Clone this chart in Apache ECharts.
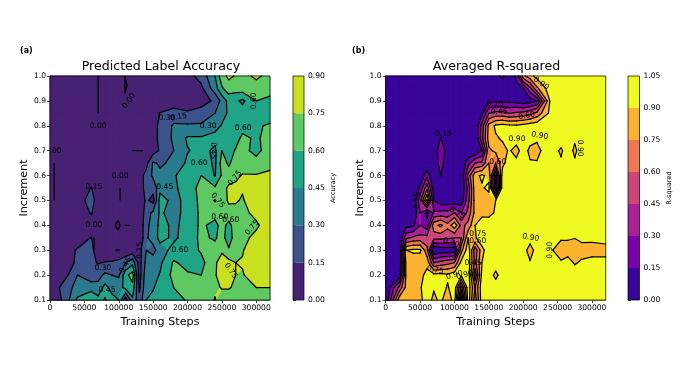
<!DOCTYPE html>
<html>
<head>
<meta charset="utf-8">
<style>
  html, body { margin: 0; background: #fff; }
  #chart { width: 692px; height: 389px; }
</style>
<script src="https://cdn.jsdelivr.net/npm/echarts@6/dist/echarts.min.js"></script>
</head>
<body>
<div id="chart"></div>
<script>
const increments = [1, 0.95, 0.9, 0.85, 0.8, 0.75, 0.7, 0.65, 0.6, 0.55, 0.5, 0.45, 0.4, 0.35, 0.3, 0.25, 0.2, 0.15, 0.1];

// training steps (in thousands) of the columns of each grid
const stepsA = [0, 20, 40, 60, 70, 80, 90, 100, 110, 120, 130, 140, 150, 160, 180, 200, 220, 240, 250, 260, 270, 280, 300, 320];
const stepsB = [0, 20, 30, 40, 50, 60, 70, 80, 90, 100, 110, 120, 130, 140, 150, 160, 170, 180, 190, 200, 210, 220, 240, 255, 265, 275, 285, 300, 320];

// accuracy in percent, one row per increment
const accuracy = [
  [0,0,0,0,0,0,0,0,0,0,0,0,0,0,0,10,20,45,70,78,74,70,78,70],
  [0,0,0,0,0,0,0,0,0,0,0,0,0,0,0,5,12,38,58,68,66,68,68,68],
  [0,0,0,0,0,0,0,0,0,0,0,0,0,0,5,3,8,18,35,50,48,42,60,55],
  [0,0,0,0,0,0,0,0,0,0,0,0,5,16,22,18,22,30,40,47,50,52,55,52],
  [0,0,0,0,0,0,0,0,0,0,0,0,10,18,32,32,32,40,46,50,50,55,58,62],
  [0,0,0,0,0,0,0,0,0,0,0,0,12,17,33,47,47,50,52,52,55,63,58,65],
  [0,0,0,0,0,0,0,0,0,0,0,0,8,17,30,44,50,42,60,55,61,64,56,67],
  [0,0,0,0,0,0,0,0,0,0,2,10,32,28,33,48,55,42,66,58,66,68,65,68],
  [0,0,0,0,0,0,0,0,0,0,8,20,33,33,44,50,60,44,62,66,72,76,76,80],
  [0,0,0,16,0,0,0,0,0,0,5,22,20,40,43,50,66,62,68,78,78,76,78,83],
  [0,0,0,28,0,0,0,0,0,0,2,18,10,52,40,50,64,76,68,77,76,74,82,85],
  [0,0,0,17,0,0,0,0,0,0,0,24,33,47,40,50,63,66,66,70,72,70,80,84],
  [0,0,0,0,0,0,0,0,0,0,0,28,33,50,42,50,63,55,66,55,68,68,72,85],
  [0,0,0,16,0,0,0,0,0,0,0,28,36,50,42,52,63,58,66,52,68,70,80,85],
  [0,0,18,20,5,0,0,0,0,5,10,30,25,38,50,52,62,66,74,62,70,74,85,85],
  [0,0,20,18,14,16,17,20,30,40,8,35,38,42,62,55,55,74,78,80,75,76,85,85],
  [0,8,30,18,25,33,30,28,55,67,8,40,40,46,65,62,60,74,80,82,75,74,82,80],
  [0,22,35,40,35,50,40,38,50,55,12,42,44,50,60,66,62,72,76,76,73,70,75,75],
  [0,18,48,56,50,62,50,45,5,42,20,45,48,52,52,62,62,76,68,68,68,68,68,68]
];

// R-squared in percent
const rSquared = [
  [0,0,0,0,0,0,0,0,0,0,0,0,0,0,0,10,18,0,18,70,85,95,100,100,100,100,100,100,100],
  [0,0,0,0,0,0,0,0,0,0,0,0,0,0,0,0,5,0,12,15,40,72,100,100,100,100,100,100,100],
  [0,0,0,0,0,0,0,0,0,0,0,0,0,0,12,12,12,12,10,5,8,15,95,100,100,100,100,100,100],
  [0,0,0,0,0,0,0,0,0,0,0,0,0,12,45,50,50,45,48,50,55,65,95,100,100,100,100,100,100],
  [0,0,0,0,0,0,0,0,0,0,0,0,0,35,80,93,95,93,92,95,98,100,100,100,100,100,100,100,100],
  [0,0,0,0,0,0,0,16,0,0,0,0,0,40,82,88,92,100,100,100,98,92,100,100,100,93,100,100,100],
  [0,0,0,0,0,0,0,28,5,0,0,0,0,15,72,78,85,92,82,100,85,86,100,87,100,86,100,100,100],
  [0,0,0,0,0,0,0,25,0,0,0,25,45,48,75,60,85,100,96,100,92,91,100,93,100,93,100,100,100],
  [0,0,0,0,0,25,0,15,0,0,0,50,85,93,85,15,100,100,100,100,100,100,100,100,100,100,100,100,100],
  [0,0,0,0,18,55,8,0,0,0,0,35,85,88,94,15,100,100,100,100,100,100,100,100,100,100,100,100,100],
  [0,0,0,0,40,92,15,5,5,5,5,40,82,85,82,90,100,100,100,100,100,100,100,100,100,100,100,100,100],
  [0,0,0,0,30,10,32,35,35,45,30,50,80,85,85,92,100,100,100,100,100,100,100,100,100,100,100,100,100],
  [0,0,10,12,30,20,70,78,65,85,55,65,90,100,100,100,100,100,100,100,100,100,100,100,100,100,100,100,100],
  [0,0,42,48,50,50,50,50,48,45,45,90,88,100,100,100,100,100,100,100,100,100,100,92,92,90.5,95,94,97],
  [0,0,90,93,93,65,0,5,5,5,70,100,50,85,100,100,100,100,100,100,80,100,92,82,82,82,82,83,83],
  [0,0,82,80,80,85,45,50,55,60,95,100,55,90,100,100,100,100,100,100,92,100,100,92,97,88,93,96,96],
  [0,5,80,85,85,95,95,95,93,100,93,100,35,95,100,85,100,100,100,100,100,100,100,100,100,100,100,100,100],
  [0,50,80,85,88,100,92,100,88,100,40,100,60,100,100,100,100,100,100,100,100,100,100,100,100,100,100,100,100],
  [0,85,85,85,85,100,85,95,75,100,0,100,50,100,100,100,100,100,100,100,100,100,100,100,100,100,100,100,100]
];

const levelsA = [0, 0.15, 0.3, 0.45, 0.6, 0.75, 0.9];
const levelsB = [0, 0.15, 0.3, 0.45, 0.6, 0.75, 0.9, 1.05];
const colorsA = ["#482173", "#3b528b", "#2a7b8e", "#20a486", "#5ec962", "#c8e020"];
const colorsB = ["#380499", "#7a02a8", "#a82296", "#cc4778", "#ed7953", "#fdb32f", "#f0f921"];

const stepTicks = [0, 50000, 100000, 150000, 200000, 250000, 300000];
const incrementTicks = [0.1, 0.2, 0.3, 0.4, 0.5, 0.6, 0.7, 0.8, 0.9, 1];

// thin traces of the 0.00 contour in panel a, [steps in thousands, increment]
const zeroTraces = [
  [[70, 1], [70, 0.85]],
  [[109, 1], [109, 0.93], [112, 0.96], [109, 1]],
  [[120, 0.7], [135, 0.7]],
  [[6, 0.65], [6, 0.5]],
  [[102, 0.55], [102, 0.5]],
  [[109, 0.4], [116, 0.4]],
  [[95, 0.4], [99, 0.42], [102, 0.4], [99, 0.38], [95, 0.4]],
  [[64, 0.35], [64, 0.3]],
  [[95, 0.3], [102, 0.3]]
];

// contour labels: [steps in thousands, increment, text, rotation in degrees]
const labelsA = [
  [70, 0.8, "0.00", 0], [115, 0.9, "0.00", 55], [8, 0.7, ".00", 0], [102, 0.6, "0.00", 0],
  [64, 0.555, "0.15", 0], [64, 0.4, "0.00", 0], [77, 0.23, "0.30", 0], [83, 0.14, "0.45", 0],
  [110, 0.24, "0.45", 60], [131, 0.3, "0.15", 90], [167, 0.555, "0.45", 0], [189, 0.3, "0.60", 0],
  [170, 0.83, "0.30", 0], [187, 0.835, "0.15", 10], [230, 0.8, "0.30", 0], [281, 0.79, "0.60", 0],
  [297, 0.9, "0.60", 90], [237, 0.7, "0.45", -90], [217, 0.65, "0.60", 0], [269, 0.59, "0.75", 50],
  [244, 0.5, "0.75", -50], [247, 0.435, "0.60", 0], [263, 0.42, "0.60", 0], [294, 0.39, "0.75", 50],
  [263, 0.217, "0.75", -55]
];
const labelsB = [
  [84, 0.767, "0.15", 0], [159, 0.888, "0.15", 0], [165, 0.855, "0.45", 0], [163, 0.655, "0.60", 0],
  [226, 0.97, "0.90", -35], [205, 0.84, "0.60", 10], [191, 0.747, "0.90", 0], [224, 0.76, "0.90", -10],
  [282, 0.71, "0.90", -90], [211, 0.35, "0.90", -10], [239, 0.3, "0.90", 90], [45, 0.5, "0.15", 90],
  [104, 0.45, "0.75", -30], [95, 0.33, "0.30", -20], [72, 0.22, "0.75", -10], [100, 0.2, "0.90", 15],
  [115, 0.2, "0.90", 15], [134, 0.365, "0.75", 0], [134, 0.335, "0.60", 0], [127, 0.25, "0.45", 0]
];

const FONT = "DejaVu Sans";

function cellsOf(steps, rows) {
  const cells = [];
  for (let r = 0; r < increments.length - 1; r++) {
    for (let c = 0; c < steps.length - 1; c++) {
      cells.push([
        steps[c] * 1000, increments[r], steps[c + 1] * 1000, increments[r + 1],
        rows[r][c] / 100, rows[r][c + 1] / 100, rows[r + 1][c + 1] / 100, rows[r + 1][c] / 100
      ]);
    }
  }
  return cells;
}

function cellCorners(api) {
  const x0 = api.value(0), y0 = api.value(1), x1 = api.value(2), y1 = api.value(3);
  return [
    { p: [x0, y0], v: api.value(4) },
    { p: [x1, y0], v: api.value(5) },
    { p: [x1, y1], v: api.value(6) },
    { p: [x0, y1], v: api.value(7) }
  ];
}

function crossing(a, b, level) {
  const t = (level - a.v) / (b.v - a.v);
  return { p: [a.p[0] + (b.p[0] - a.p[0]) * t, a.p[1] + (b.p[1] - a.p[1]) * t], v: level };
}

// keep the part of a polygon on one side of a level
function clip(poly, level, keepAbove) {
  const out = [];
  const inside = (n) => (keepAbove ? n.v >= level : n.v <= level);
  poly.forEach((a, i) => {
    const b = poly[(i + 1) % poly.length];
    if (inside(a)) out.push(a);
    if (inside(a) !== inside(b)) out.push(crossing(a, b, level));
  });
  return out;
}

function fillRenderer(levels, colors) {
  return function (params, api) {
    const corners = cellCorners(api);
    const children = [];
    colors.forEach((color, i) => {
      const poly = clip(clip(corners, levels[i], true), levels[i + 1], false);
      if (poly.length < 3) return;
      children.push({
        type: "polygon",
        shape: { points: poly.map((n) => api.coord(n.p)) },
        style: { fill: color, stroke: color, lineWidth: 1 }
      });
    });
    return { type: "group", children: children };
  };
}

function lineRenderer(levels) {
  return function (params, api) {
    const corners = cellCorners(api);
    const centre = (corners[0].v + corners[1].v + corners[2].v + corners[3].v) / 4;
    const children = [];
    levels.slice(1, -1).forEach((level) => {
      const hits = [];
      corners.forEach((a, i) => {
        const b = corners[(i + 1) % 4];
        if ((a.v > level) !== (b.v > level)) hits.push(crossing(a, b, level));
      });
      const segs = [];
      if (hits.length === 2) segs.push([hits[0], hits[1]]);
      if (hits.length === 4) {
        if ((corners[0].v > level) === (centre > level)) {
          segs.push([hits[0], hits[1]], [hits[2], hits[3]]);
        } else {
          segs.push([hits[3], hits[0]], [hits[1], hits[2]]);
        }
      }
      segs.forEach((s) => {
        const a = api.coord(s[0].p), b = api.coord(s[1].p);
        children.push({
          type: "line",
          shape: { x1: a[0], y1: a[1], x2: b[0], y2: b[1] },
          style: { stroke: "#000", lineWidth: 1.25, lineCap: "round" }
        });
      });
    });
    return { type: "group", children: children };
  };
}

function labelRenderer(labels) {
  return function (params, api) {
    const item = labels[params.dataIndex];
    const pos = api.coord([item[0] * 1000, item[1]]);
    return {
      type: "text",
      x: pos[0],
      y: pos[1],
      rotation: (item[3] * Math.PI) / 180,
      style: {
        text: item[2],
        fill: "#000",
        font: "7.6px '" + FONT + "'",
        textAlign: "center",
        textVerticalAlign: "middle"
      }
    };
  };
}

function bandRenderer(levels, colors) {
  return function (params, api) {
    const i = params.dataIndex;
    const a = api.coord([0, levels[i]]);
    const b = api.coord([1, levels[i + 1]]);
    return {
      type: "rect",
      shape: { x: a[0], y: b[1], width: b[0] - a[0], height: a[1] - b[1] },
      style: { fill: colors[i] }
    };
  };
}

const tickFont = { fontFamily: FONT, fontSize: 7.6, color: "#000", margin: 4 };
const axisLine = { show: true, lineStyle: { color: "#000", width: 0.7 } };
const axisTick = { show: true, length: 3, lineStyle: { color: "#000", width: 0.7 } };

function panelAxes(gridIndex) {
  return {
    x: {
      type: "value", gridIndex: gridIndex, min: 0, max: 320000,
      name: "Training Steps", nameLocation: "middle", nameGap: 14,
      nameTextStyle: { fontFamily: FONT, fontSize: 11.2, color: "#000" },
      axisLine: axisLine,
      axisTick: Object.assign({ customValues: stepTicks }, axisTick),
      axisLabel: Object.assign({ customValues: stepTicks, formatter: (v) => String(v) }, tickFont),
      splitLine: { show: false }
    },
    y: {
      type: "value", gridIndex: gridIndex, min: 0.1, max: 1,
      name: "Increment", nameLocation: "middle", nameGap: 20,
      nameTextStyle: { fontFamily: FONT, fontSize: 11.2, color: "#000" },
      axisLine: axisLine,
      axisTick: Object.assign({ customValues: incrementTicks }, axisTick),
      axisLabel: Object.assign({ customValues: incrementTicks, formatter: (v) => v.toFixed(1) }, tickFont),
      splitLine: { show: false }
    }
  };
}

function barAxes(gridIndex, levels, name) {
  return {
    x: { type: "value", gridIndex: gridIndex, min: 0, max: 1, show: false },
    y: {
      type: "value", gridIndex: gridIndex, min: 0, max: levels[levels.length - 1], position: "right",
      name: name, nameLocation: "middle", nameGap: 26, nameRotate: 90,
      nameTextStyle: { fontFamily: FONT, fontSize: 6.6, color: "#000" },
      axisLine: { show: false },
      axisTick: Object.assign({ customValues: levels }, axisTick),
      axisLabel: Object.assign({ customValues: levels, formatter: (v) => v.toFixed(2) }, tickFont),
      splitLine: { show: false }
    }
  };
}

function contourSeries(axisIndex, steps, rows, levels, colors, labels) {
  const cells = cellsOf(steps, rows);
  const base = { type: "custom", xAxisIndex: axisIndex, yAxisIndex: axisIndex, clip: false, silent: true, animation: false };
  return [
    Object.assign({}, base, { z: 2, data: cells, renderItem: fillRenderer(levels, colors) }),
    Object.assign({}, base, { z: 3, data: cells, renderItem: lineRenderer(levels) }),
    Object.assign({}, base, { z: 5, data: labels.map((l) => [l[0] * 1000, l[1]]), renderItem: labelRenderer(labels) })
  ];
}

function barSeries(axisIndex, levels, colors) {
  return {
    type: "custom", xAxisIndex: axisIndex, yAxisIndex: axisIndex, silent: true, animation: false, z: 2,
    data: colors.map((c, i) => [0, levels[i]]),
    renderItem: bandRenderer(levels, colors)
  };
}

const zeroSeries = zeroTraces.map((trace) => ({
  type: "line", xAxisIndex: 0, yAxisIndex: 0, silent: true, animation: false, z: 3,
  showSymbol: false, lineStyle: { color: "#000", width: 1.25 },
  data: trace.map((p) => [p[0] * 1000, p[1]])
}));

const axesA = panelAxes(0), axesB = panelAxes(1);
const barA = barAxes(2, levelsA, "Accuracy"), barB = barAxes(3, levelsB, "R-squared");
const frame = { show: true, z: 10, borderColor: "#000", borderWidth: 0.7, backgroundColor: "transparent" };

const chart = echarts.init(document.getElementById("chart"), null, { renderer: "canvas" });
chart.setOption({
  backgroundColor: "#fff",
  animation: false,
  title: [
    { text: "Predicted Label Accuracy", left: 156, top: 55, textAlign: "center", textStyle: { fontFamily: FONT, fontSize: 12.6, fontWeight: "normal", color: "#000" } },
    { text: "Averaged R-squared", left: 491.5, top: 55, textAlign: "center", textStyle: { fontFamily: FONT, fontSize: 12.6, fontWeight: "normal", color: "#000" } },
    { text: "(a)", left: 15, top: 42, textStyle: { fontFamily: FONT, fontSize: 8, fontWeight: "bold", color: "#000" } },
    { text: "(b)", left: 347, top: 42, textStyle: { fontFamily: FONT, fontSize: 8, fontWeight: "bold", color: "#000" } }
  ],
  grid: [
    Object.assign({ left: 50, top: 76, width: 220, height: 224 }, frame),
    Object.assign({ left: 385.7, top: 76, width: 220, height: 224 }, frame),
    Object.assign({ left: 293, top: 76, width: 11, height: 224 }, frame),
    Object.assign({ left: 628, top: 76, width: 11.5, height: 224 }, frame)
  ],
  xAxis: [axesA.x, axesB.x, barA.x, barB.x],
  yAxis: [axesA.y, axesB.y, barA.y, barB.y],
  series: [
    ...contourSeries(0, stepsA, accuracy, levelsA, colorsA, labelsA),
    ...contourSeries(1, stepsB, rSquared, levelsB, colorsB, labelsB),
    barSeries(2, levelsA, colorsA),
    barSeries(3, levelsB, colorsB),
    ...zeroSeries
  ]
});
</script>
</body>
</html>
